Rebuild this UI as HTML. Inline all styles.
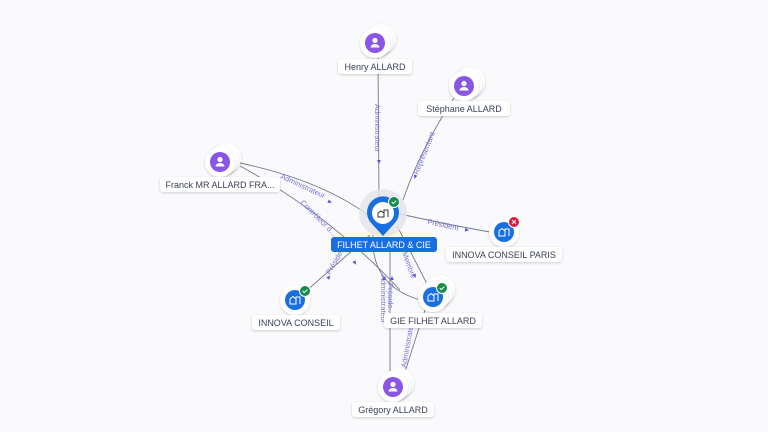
<!DOCTYPE html>
<html><head><meta charset="utf-8"><style>
html,body{margin:0;padding:0;background:#fafafc;}
svg{display:block;font-family:"Liberation Sans",sans-serif;}
.lbl{font-size:9px;fill:#3a3f58;text-anchor:middle;}
.el{font-size:7.5px;fill:#7b74d8;}
.ln{fill:none;stroke:#737890;stroke-width:0.9;}
.ar{fill:#5a4fd8;}
</style></head><body>
<svg width="768" height="432" viewBox="0 0 768 432">
<defs>
<filter id="sh" x="-30%" y="-30%" width="160%" height="160%"><feDropShadow dx="0" dy="1" stdDeviation="1.2" flood-color="#000" flood-opacity="0.18"/></filter>
<g id="person">
<circle cx="6" cy="-4" r="15" fill="#fff" filter="url(#sh)"/>
<circle cx="3" cy="-2" r="15" fill="#fff" filter="url(#sh)"/>
<circle cx="0" cy="0" r="15" fill="#fff" filter="url(#sh)"/>
<circle cx="0" cy="0" r="10" fill="#8b55e8"/>
<circle cx="0" cy="-2.5" r="2.6" fill="#fff"/>
<path d="M-4.5 4.5 a4.5 3.5 0 0 1 9 0 z" fill="#fff"/>
</g>
<g id="comp">
<circle cx="0" cy="0" r="15" fill="#fff" filter="url(#sh)"/>
<circle cx="0" cy="0" r="10" fill="#1a6fe0"/>
<path d="M-5 4 v-5 l3-2.5 3 2.5 v5 z M1 4 v-7 h4 v7" fill="none" stroke="#fff" stroke-width="1"/>
</g>
<g id="ok"><circle r="5.5" fill="#1a8a4a" stroke="#fff" stroke-width="1"/><path d="M-2.3 0 l1.6 1.6 3-3" stroke="#fff" stroke-width="1" fill="none"/></g>
<path id="tri" d="M-2 -1.8 L2 0 L-2 1.8 z"/>
</defs>

<!-- edges -->
<path class="ln" d="M378 58 L379 196"/>
<path class="ln" d="M454 98 Q420 150 403 200"/>
<path class="ln" d="M240 163 Q320 180 368 215"/>
<path class="ln" d="M240 166 Q330 215 400 290"/>
<path class="ln" d="M400 214 Q450 225 490 232"/>
<path class="ln" d="M305 292 Q330 270 370 235"/>
<path class="ln" d="M397 226 Q415 260 430 290"/>
<path class="ln" d="M373 235 Q370 285 420 300"/>
<path class="ln" d="M390 252 L390 372"/>
<path class="ln" d="M425 310 Q415 340 405 372"/>

<use href="#tri" class="ar" transform="translate(379 162) rotate(90)"/>
<use href="#tri" class="ar" transform="translate(415 177) rotate(110)"/>
<use href="#tri" class="ar" transform="translate(330 202) rotate(25)"/>
<use href="#tri" class="ar" transform="translate(467 230) rotate(5)"/>
<use href="#tri" class="ar" transform="translate(329 277) rotate(-50)"/>
<use href="#tri" class="ar" transform="translate(355 263) rotate(60)"/>
<use href="#tri" class="ar" transform="translate(415 276) rotate(60)"/>
<use href="#tri" class="ar" transform="translate(384 278) rotate(-90)"/>
<use href="#tri" class="ar" transform="translate(392 278) rotate(-90)"/>

<text class="el" transform="translate(375 104) rotate(90)">Administrateur</text>
<text class="el" transform="translate(418 175) rotate(-68)">Représentant</text>
<text class="el" transform="translate(280 178) rotate(25)">Administrateur</text>
<text class="el" transform="translate(300 203) rotate(45)">Contrôleur d...</text>
<text class="el" transform="translate(427 224) rotate(12)">Président</text>
<text class="el" transform="translate(330 275) rotate(-60)">Président</text>
<text class="el" transform="translate(402 253) rotate(70)">Membre</text>
<text class="el" transform="translate(381 275) rotate(90)">Administrateur</text>
<text class="el" transform="translate(388 283) rotate(90)">Préside...</text>
<text class="el" transform="translate(406 368) rotate(-80)">Administrateur</text>

<!-- nodes -->
<use href="#person" x="375" y="43"/>
<rect x="338" y="59" width="74" height="15" rx="3" fill="#fff" filter="url(#sh)"/>
<text class="lbl" x="375" y="70">Henry ALLARD</text>

<use href="#person" x="464" y="86"/>
<rect x="418" y="101" width="92" height="15" rx="3" fill="#fff" filter="url(#sh)"/>
<text class="lbl" x="464" y="112">Stéphane ALLARD</text>

<use href="#person" x="220" y="162"/>
<rect x="160" y="177" width="120" height="15" rx="3" fill="#fff" filter="url(#sh)"/>
<text class="lbl" x="220" y="188">Franck MR ALLARD FRA...</text>

<use href="#person" x="393" y="387"/>
<rect x="352" y="402" width="82" height="15" rx="3" fill="#fff" filter="url(#sh)"/>
<text class="lbl" x="393" y="413">Grégory ALLARD</text>

<use href="#comp" x="504" y="232"/>
<circle cx="514" cy="222" r="5.5" fill="#d81b3c" stroke="#fff" stroke-width="1"/>
<path d="M512 220 l4 4 M516 220 l-4 4" stroke="#fff" stroke-width="1"/>
<rect x="446" y="247" width="116" height="15" rx="3" fill="#fff" filter="url(#sh)"/>
<text class="lbl" x="504" y="258">INNOVA CONSEIL PARIS</text>

<use href="#comp" x="295" y="300"/>
<use href="#ok" x="305" y="291"/>
<rect x="252" y="315" width="88" height="15" rx="3" fill="#fff" filter="url(#sh)"/>
<text class="lbl" x="296" y="326">INNOVA CONSEIL</text>

<circle cx="440" cy="290" r="15" fill="#fff" filter="url(#sh)"/>
<circle cx="437" cy="293" r="15" fill="#fff" filter="url(#sh)"/>
<use href="#comp" x="433" y="297"/>
<use href="#ok" x="442" y="288"/>
<rect x="384" y="313" width="98" height="15" rx="3" fill="#fff" filter="url(#sh)"/>
<text class="lbl" x="433" y="324">GIE FILHET ALLARD</text>

<!-- center -->
<circle cx="383" cy="213" r="24" fill="#e4e5ea" opacity="0.8"/>
<path d="M383 236 L372 224 A16 16 0 1 1 394 224 Z" fill="#1a6fe0"/>
<circle cx="383" cy="213" r="11" fill="#fff"/>
<path d="M378 217 v-4 l3-2 3 2 v4 z M384 217 v-7 h4 v7" fill="none" stroke="#333" stroke-width="1"/>
<use href="#ok" x="394" y="202"/>
<rect x="331" y="237" width="106" height="15" rx="3" fill="#1a6fe0"/>
<text x="384" y="248" font-size="9" fill="#fff" text-anchor="middle">FILHET ALLARD &amp; CIE</text>
</svg>
</body></html>
